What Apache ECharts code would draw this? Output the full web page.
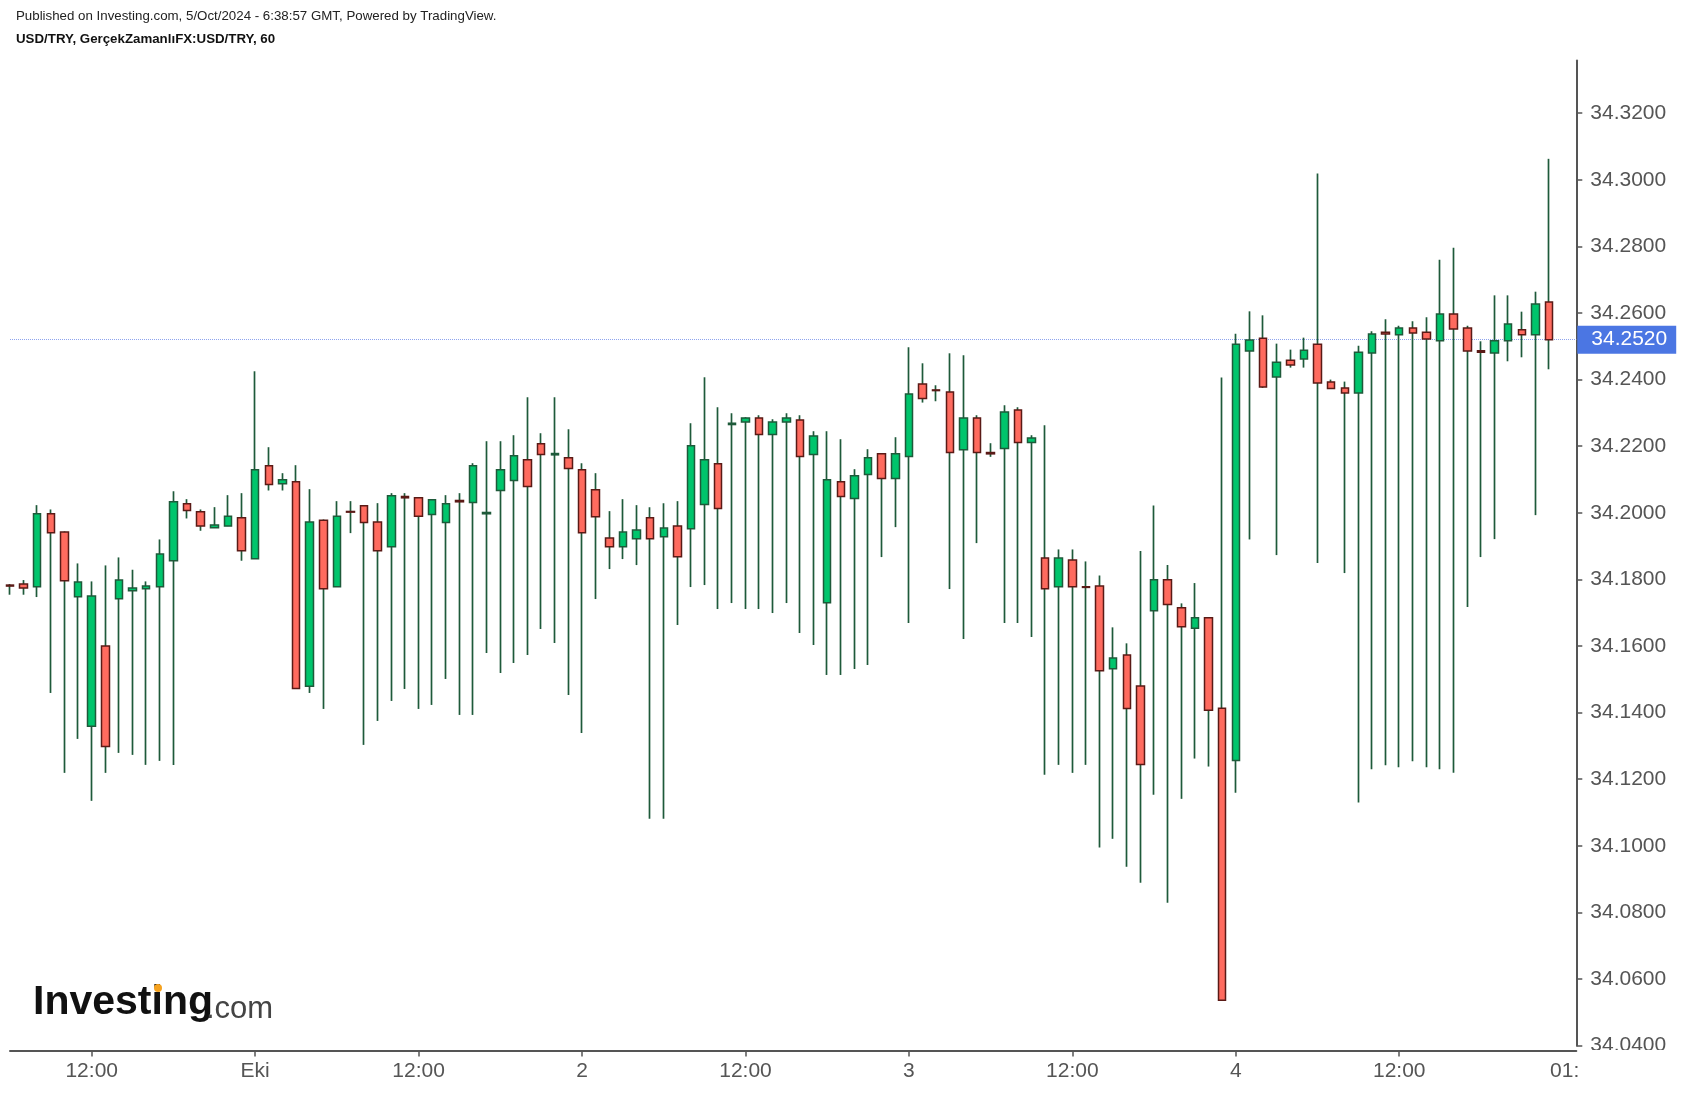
<!DOCTYPE html>
<html><head><meta charset="utf-8">
<script src="https://cdn.jsdelivr.net/npm/echarts@6/dist/echarts.min.js"></script>
<style>html,body{margin:0;padding:0;background:#fff}#c{width:1686px;height:1094px}</style>
</head><body><div id="c"></div>
<script>
// Hourly USD/TRY candles (open, high, low, close), 30 Sep 06:00 -> 4 Oct 23:00
const opens = [
34.1783,34.1786,34.1778,34.1997,34.1942,34.1748,34.1359,34.1600,34.1742,34.1766,
34.1772,34.1778,34.1856,34.2027,34.2003,34.1955,34.1960,34.1985,34.1862,34.2141,
34.2087,34.2093,34.1479,34.1978,34.1778,34.2004,34.2021,34.1972,34.1898,34.2049,
34.2045,34.1995,34.1971,34.2037,34.2031,34.1997,34.2067,34.2097,34.2159,34.2207,
34.2174,34.2165,34.2129,34.2069,34.1924,34.1898,34.1922,34.1985,34.1928,34.1960,
34.1952,34.2025,34.2147,34.2265,34.2273,34.2285,34.2235,34.2273,34.2279,34.2175,
34.1730,34.2093,34.2043,34.2115,34.2177,34.2103,34.2169,34.2387,34.2369,34.2363,
34.2189,34.2285,34.2181,34.2193,34.2309,34.2211,34.1864,34.1778,34.1858,34.1778,
34.1780,34.1532,34.1573,34.1480,34.1706,34.1799,34.1715,34.1653,34.1685,34.1413,
34.1256,34.2486,34.2524,34.2408,34.2458,34.2462,34.2506,34.2393,34.2375,34.2360,
34.2480,34.2542,34.2535,34.2555,34.2542,34.2517,34.2597,34.2555,34.2487,34.2480,
34.2517,34.2550,34.2535,34.2633];
const highs = [
34.1786,34.1798,34.2023,34.2010,34.1944,34.1848,34.1794,34.1842,34.1866,34.1829,
34.1794,34.1920,34.2065,34.2041,34.2010,34.2017,34.2053,34.2059,34.2425,34.2197,
34.2119,34.2143,34.2071,34.1980,34.2035,34.2035,34.2022,34.2029,34.2059,34.2059,
34.2046,34.2040,34.2053,34.2059,34.2149,34.2215,34.2215,34.2233,34.2347,34.2239,
34.2347,34.2251,34.2149,34.2119,34.2005,34.2041,34.2023,34.2017,34.2029,34.2035,
34.2269,34.2407,34.2317,34.2299,34.2287,34.2293,34.2281,34.2299,34.2293,34.2245,
34.2245,34.2221,34.2131,34.2191,34.2178,34.2227,34.2497,34.2449,34.2383,34.2479,
34.2473,34.2293,34.2209,34.2323,34.2317,34.2233,34.2263,34.1890,34.1890,34.1854,
34.1812,34.1656,34.1608,34.1885,34.2022,34.1843,34.1728,34.1789,34.1686,34.2406,
34.2538,34.2605,34.2593,34.2508,34.2490,34.2526,34.3019,34.2400,34.2394,34.2502,
34.2545,34.2581,34.2562,34.2575,34.2587,34.2760,34.2796,34.2562,34.2515,34.2653,
34.2653,34.2604,34.2664,34.3063];
const lows = [
34.1754,34.1754,34.1747,34.1459,34.1219,34.1321,34.1135,34.1219,34.1279,34.1273,
34.1243,34.1255,34.1243,34.1983,34.1946,34.1955,34.1960,34.1856,34.1862,34.2067,
34.2067,34.1472,34.1459,34.1411,34.1778,34.1939,34.1303,34.1375,34.1435,34.1471,
34.1411,34.1423,34.1501,34.1393,34.1393,34.1579,34.1519,34.1549,34.1573,34.1651,
34.1609,34.1453,34.1339,34.1741,34.1831,34.1861,34.1843,34.1081,34.1081,34.1663,
34.1777,34.1783,34.1711,34.1729,34.1711,34.1711,34.1699,34.1729,34.1639,34.1603,
34.1513,34.1513,34.1531,34.1543,34.1867,34.1957,34.1669,34.2331,34.2335,34.1771,
34.1621,34.1909,34.2168,34.1669,34.1669,34.1627,34.1213,34.1243,34.1219,34.1243,
34.0995,34.1021,34.0937,34.0889,34.1153,34.0829,34.1141,34.1262,34.1238,34.0536,
34.1159,34.1920,34.2375,34.1873,34.2436,34.2436,34.1849,34.2373,34.1819,34.1130,
34.1230,34.1242,34.1236,34.1254,34.1236,34.1230,34.1219,34.1717,34.1867,34.1921,
34.2455,34.2467,34.1993,34.2431];
const closes = [
34.1780,34.1774,34.1997,34.1940,34.1796,34.1792,34.1750,34.1298,34.1798,34.1774,
34.1780,34.1876,34.2033,34.2007,34.1960,34.1963,34.1990,34.1886,34.2129,34.2085,
34.2099,34.1472,34.1972,34.1772,34.1990,34.2002,34.1971,34.1886,34.2051,34.2045,
34.1990,34.2039,34.2027,34.2033,34.2141,34.2001,34.2129,34.2171,34.2079,34.2175,
34.2178,34.2133,34.1940,34.1988,34.1898,34.1942,34.1948,34.1922,34.1954,34.1868,
34.2201,34.2159,34.2013,34.2269,34.2285,34.2235,34.2273,34.2285,34.2169,34.2231,
34.2099,34.2049,34.2111,34.2165,34.2103,34.2177,34.2357,34.2343,34.2367,34.2181,
34.2285,34.2181,34.2177,34.2303,34.2211,34.2225,34.1772,34.1864,34.1778,34.1776,
34.1526,34.1564,34.1412,34.1244,34.1799,34.1725,34.1658,34.1685,34.1407,34.0536,
34.2506,34.2519,34.2378,34.2452,34.2444,34.2488,34.2390,34.2373,34.2360,34.2482,
34.2537,34.2537,34.2555,34.2540,34.2522,34.2597,34.2552,34.2486,34.2482,34.2517,
34.2567,34.2535,34.2627,34.2520];

const labelIndex = [6, 18, 30, 42, 54, 66, 78, 90, 102, 115];
const labelText  = ['12:00', 'Eki', '12:00', '2', '12:00', '3', '12:00', '4', '12:00', '01:00'];
const tickIndex  = [6, 18, 30, 42, 54, 66, 78, 90, 102];
const yTicks = [34.04,34.06,34.08,34.10,34.12,34.14,34.16,34.18,34.20,34.22,34.24,34.26,34.28,34.30,34.32];
const lastPrice = 34.2520;
const slotCount = 116;

// hourly category names
const categories = [];
for (let i = 0; i < slotCount; i++) {
  const d = new Date(Date.UTC(2024, 8, 30, 6 + i));
  categories.push(d.toISOString().slice(5, 16).replace('T', ' '));
}

const wickData = opens.map((o, i) => [o, closes[i], lows[i], highs[i]]);
const bodyData = opens.map((o, i) => [o, closes[i], Math.min(o, closes[i]), Math.max(o, closes[i])]);

const FONT = "'Liberation Sans', Arial, sans-serif";
const AX = '#555555';
const tickSet = new Set(tickIndex);
const labelSet = new Set(labelIndex);

const chart = echarts.init(document.getElementById('c'), null, {renderer: 'canvas'});
chart.setOption({
  animation: false,
  backgroundColor: '#ffffff',
  grid: {left: 10, right: 109.7, top: 60.5, bottom: 48.4, containLabel: false},
  xAxis: {
    type: 'category',
    data: categories,
    boundaryGap: false,
    offset: 5,
    axisLine: {show: true, lineStyle: {color: AX, width: 2}},
    axisTick: {show: true, length: 6, interval: (i) => tickSet.has(i), lineStyle: {color: AX, width: 1.5}},
    axisLabel: {
      interval: (i) => labelSet.has(i),
      formatter: (v, i) => labelText[labelIndex.indexOf(i)] || '',
      color: AX, fontSize: 21, fontFamily: FONT, margin: 10, showMaxLabel: true
    },
    splitLine: {show: false}
  },
  yAxis: {
    type: 'value',
    position: 'right',
    min: 34.04,
    max: 34.04 + (1045.6 - 60.5) / 3330,
    scale: true,
    axisLine: {show: true, lineStyle: {color: AX, width: 2}},
    axisTick: {show: true, length: 6, customValues: yTicks, lineStyle: {color: AX, width: 1.5}},
    axisLabel: {customValues: yTicks, formatter: (v) => v.toFixed(4), color: AX, fontSize: 21, fontFamily: FONT, margin: 14, padding: [3, 0, 0, 0]},
    splitLine: {show: false}
  },
  series: [
    {
      name: 'wick', type: 'candlestick', data: wickData, barWidth: 1, clip: false,
      itemStyle: {color: '#1e5a3a', color0: '#1e5a3a', borderColor: '#1e5a3a', borderColor0: '#1e5a3a', borderWidth: 1.7}
    },
    {
      name: 'USD/TRY', type: 'candlestick', data: bodyData, barWidth: 8, clip: false,
      itemStyle: {color: '#00c56c', color0: '#ff6b5f', borderColor: '#1e5a3a', borderColor0: '#5a1a16', borderWidth: 1.5},
      markLine: {
        silent: true, symbol: 'none', z: 1, precision: 4,
        lineStyle: {color: '#8ea4ee', type: 'dotted', width: 1},
        label: {
          show: true, position: 'end', distance: 1,
          formatter: () => lastPrice.toFixed(4),
          color: '#ffffff', backgroundColor: '#4b76e3', fontSize: 21, fontFamily: FONT,
          padding: [4, 9, 3, 14]
        },
        data: [{yAxis: lastPrice}]
      }
    }
  ],
  graphic: [
    {type: 'text', left: 16, top: 10, style: {text: 'Published on Investing.com, 5/Oct/2024 - 6:38:57 GMT, Powered by TradingView.', font: "13.3px 'Liberation Sans', Arial, sans-serif", fill: '#222'}},
    {type: 'text', left: 16, top: 33, style: {text: 'USD/TRY, GerçekZamanlıFX:USD/TRY, 60', font: "bold 13.3px 'Liberation Sans', Arial, sans-serif", fill: '#111'}},
    {type: 'text', left: 33, top: 982, z: 50, style: {text: 'Investing', font: "bold 41px 'Liberation Sans', Arial, sans-serif", fill: '#111'}},
    {type: 'text', left: 206, top: 994, z: 50, style: {text: '.com', font: "31px 'Liberation Sans', Arial, sans-serif", fill: '#444'}},
    {type: 'circle', z: 51, shape: {cx: 158, cy: 988, r: 4}, style: {fill: '#f5a21f'}},
    {type: 'rect', z: 100, shape: {x: 1578, y: 1050, width: 108, height: 44}, style: {fill: '#ffffff'}}
  ]
});
</script>
</body></html>
